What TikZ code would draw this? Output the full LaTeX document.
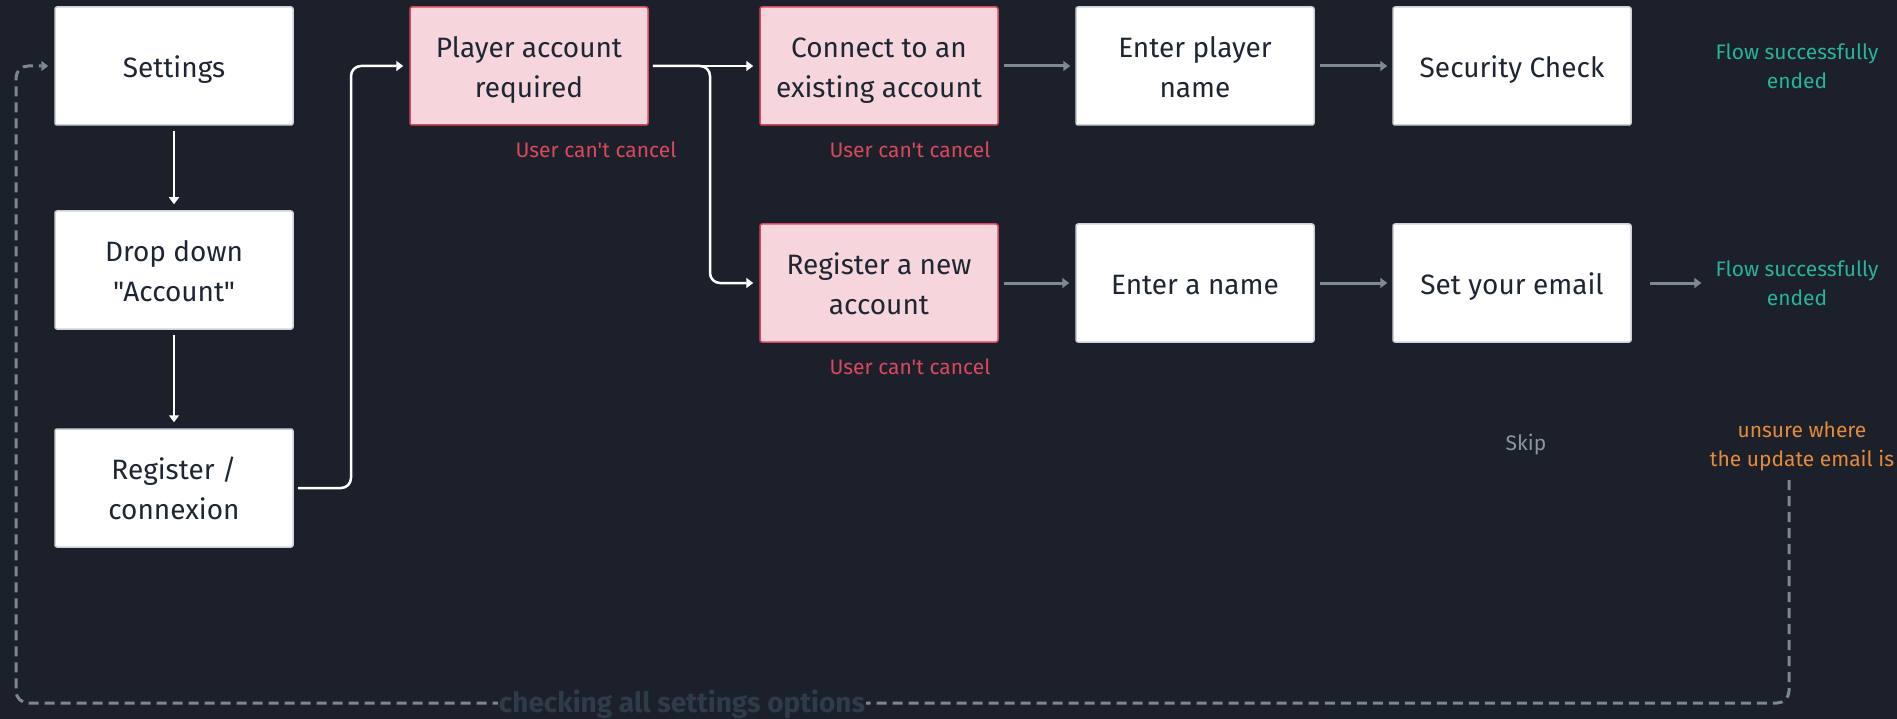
\documentclass[tikz,border=0pt]{standalone}
\usepackage{fontspec}
\setmainfont{Fira Sans}[Ligatures=TeXOff]
\usetikzlibrary{arrows.meta}

\definecolor{bg}{HTML}{1C202B}
\definecolor{ink}{HTML}{1E2633}
\definecolor{boxline}{HTML}{CDD2D8}
\definecolor{pinkfill}{HTML}{F6D6DC}
\definecolor{pinkline}{HTML}{D6485E}
\definecolor{warnred}{HTML}{D9485C}
\definecolor{okgreen}{HTML}{28B39B}
\definecolor{warnorange}{HTML}{E58A3B}
\definecolor{skipgray}{HTML}{8A95A1}
\definecolor{arrowgray}{HTML}{7D8A96}
\definecolor{dashgray}{HTML}{7B8894}
\definecolor{looptext}{HTML}{2E3C49}

% line strut (8pt below, 31.3pt above the baseline) that keeps box labels centred
\newcommand\ls{\rule[-8pt]{0pt}{39.3pt}}

\begin{document}
\begin{tikzpicture}[x=1pt,y=-1pt,
  box/.style={draw=boxline, fill=white, line width=1.5pt, rounded corners=2pt,
    minimum width=238pt, minimum height=118pt, inner sep=0pt, align=center,
    text=ink, font=\fontsize{28}{39}\selectfont},
  pinkbox/.style={box, fill=pinkfill, draw=pinkline},
  wline/.style={draw=white, line width=2.5pt, rounded corners=10pt,
    -{Triangle[length=7pt,width=10pt]}},
  gline/.style={draw=arrowgray, line width=3pt,
    -{Triangle[length=7pt,width=10pt]}},
  dline/.style={draw=dashgray, line width=3pt, dash pattern=on 10pt off 6pt,
    rounded corners=12pt, -{Triangle[length=7pt,width=10pt]}},
  note/.style={font=\fontsize{21}{29}\selectfont, align=center, inner sep=0pt}]

% canvas
\fill[bg] (0,0) rectangle (1897,719);
\useasboundingbox (0,0) rectangle (1897,719);

% left column
\node[box] (settings) at (174,66) {\ls Settings};
\node[box] (dropdown) at (174,270) {\ls Drop down\\\ls"Account"};
\node[box] (regcon) at (174,488) {\ls Register /\\\ls connexion};

% account gate and its two branches
\node[pinkbox] (player) at (529,66) {\ls Player account\\\ls required};
\node[pinkbox] (connect) at (879,66) {\ls Connect to an\\\ls existing account};
\node[pinkbox] (regnew) at (879,283) {\ls Register a new\\\ls account};

\node[box] (enterplayer) at (1195,66) {\ls Enter player\\\ls name};
\node[box] (entername) at (1195,283) {\ls Enter a name};
\node[box] (security) at (1512,66) {\ls Security Check};
\node[box] (setemail) at (1512,283) {\ls Set your email};

% annotations
\node[note, text=warnred] (cancelA) at (596,150) {User can't cancel};
\node[note, text=warnred] (cancelB) at (910,150) {User can't cancel};
\node[note, text=warnred] (cancelC) at (910,367) {User can't cancel};
\node[note, text=okgreen] (flowA) at (1797,66) {Flow successfully\\ended};
\node[note, text=okgreen] (flowB) at (1797,283) {Flow successfully\\ended};
\node[note, text=skipgray] (skip) at (1526,445) {Skip};
\node[note, text=warnorange] (unsure) at (1802,446) {unsure where\\the update email is};

% bend points
\coordinate (riser) at (351,488);
\coordinate (fork) at (710,66);
\coordinate (loopstart) at (1789,480);
\coordinate (loopcorner) at (16,703);

% white flow
\draw[wline, shorten <=5pt, shorten >=6pt] (settings) -- (dropdown);
\draw[wline, shorten <=5pt, shorten >=6pt] (dropdown) -- (regcon);
\draw[wline, shorten <=4pt, shorten >=6pt] (regcon.east) -- (riser) |- (player.west);
\draw[wline, shorten <=4pt, shorten >=6pt] (player.east) -- (connect.west);
\draw[wline, shorten <=4pt, shorten >=6pt] (player.east) -- (fork) |- (regnew.west);

% grey flow
\draw[gline, shorten <=5pt, shorten >=5pt] (connect) -- (enterplayer);
\draw[gline, shorten <=5pt, shorten >=5pt] (enterplayer) -- (security);
\draw[gline, shorten <=5pt, shorten >=6pt] (regnew) -- (entername);
\draw[gline, shorten <=5pt, shorten >=5pt] (entername) -- (setemail);
\draw[gline, shorten <=18pt, shorten >=14pt] (setemail.east) -- (flowB.west);

% loop back to settings
\draw[dline, shorten >=6pt] (loopstart) |- (loopcorner) |- (settings.west);
\node[font=\bfseries\fontsize{28}{32}\selectfont, text=looptext, fill=bg,
  inner sep=1pt] (looplabel) at (682,704) {checking all settings options};

\end{tikzpicture}
\end{document}
